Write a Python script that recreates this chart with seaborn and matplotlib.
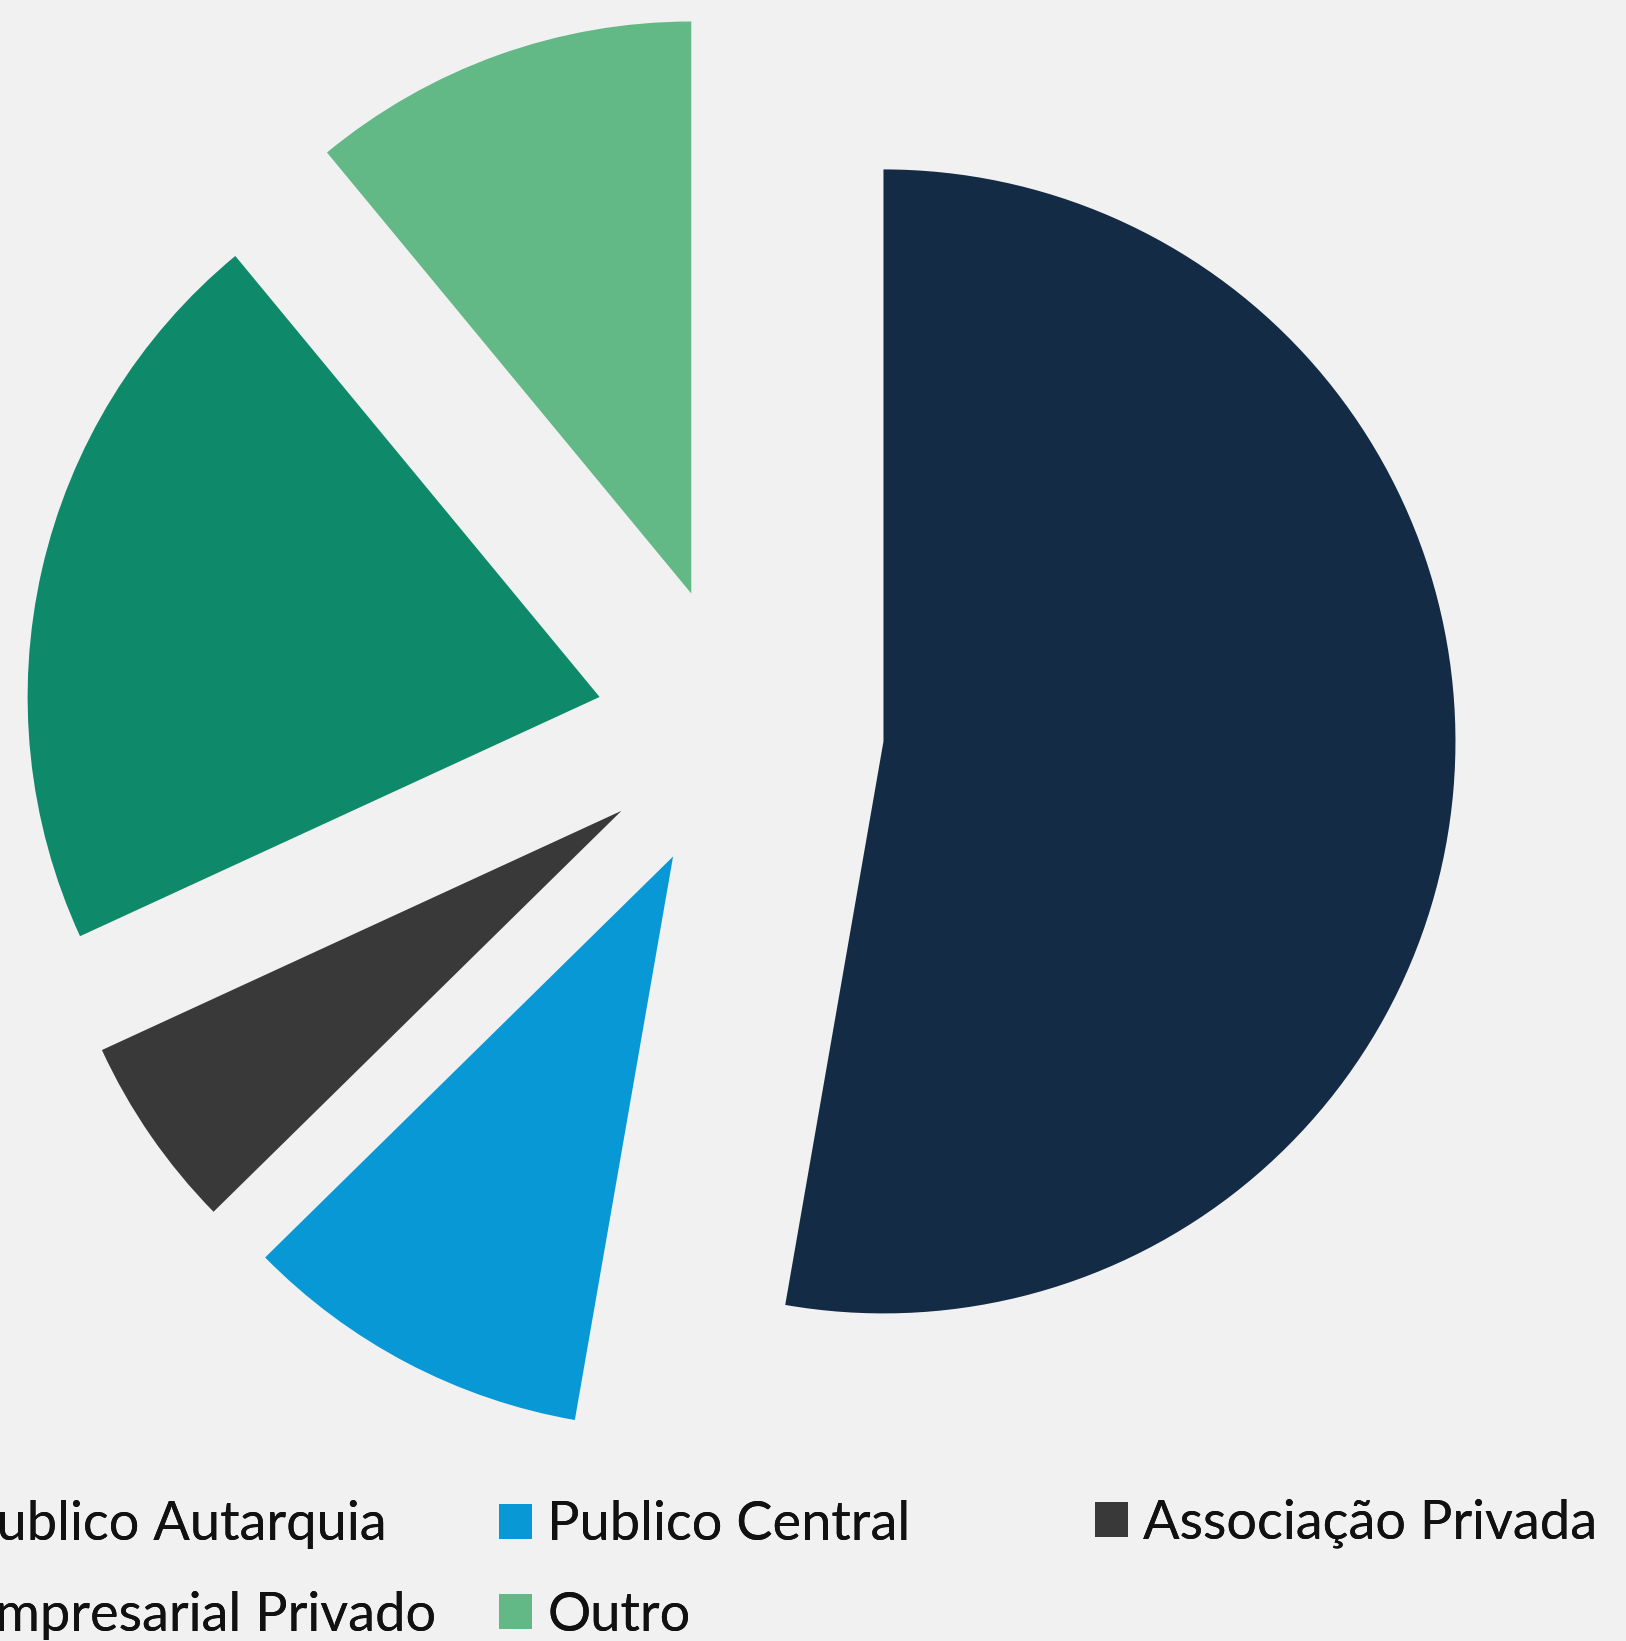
import matplotlib
matplotlib.use("Agg")
import matplotlib.pyplot as plt
import seaborn as sns

labels = ["Publico Autarquia", "Publico Central", "Associação Privada",
          "Empresarial Privado", "Outro"]
counts = [48, 9, 5, 19, 10]
colors = ["#132b45", "#0798d5", "#393939", "#0e8a6b", "#62b986"]

bg = "#f1f1f1"
sns.set_style("white", {"axes.facecolor": bg, "figure.facecolor": bg})
plt.rcParams["font.family"] = ["Lato", "DejaVu Sans"]

W, H = 1626, 1641
fig = plt.figure(figsize=(W / 100, H / 100), dpi=100)
ax = fig.add_axes([0, 0, 1, 1])

# pizza com todas as fatias destacadas
R = 572
wedges, _ = ax.pie(counts, colors=colors, startangle=90, counterclock=False,
                   radius=R, center=(740, H - 729),
                   explode=[144] * len(counts),
                   wedgeprops=dict(linewidth=0))
ax.set_xlim(0, W)
ax.set_ylim(0, H)
ax.set_aspect("auto")
ax.axis("off")

# legenda em 3 colunas (a primeira sai cortada pela esquerda)
kw = dict(frameon=False, fontsize=39, handlelength=0.61, handleheight=0.61,
          handletextpad=0.28, labelspacing=0.76, borderpad=0,
          borderaxespad=0, labelcolor="#111111")
cols = [[0, 3], [1, 4], [2]]
anchors = [("center right", 436, 1570), ("center left", 499, 1570),
           ("center left", 1095, 1523)]
for idx, (loc, x, y) in zip(cols, anchors):
    leg = fig.legend([wedges[i] for i in idx], [labels[i] for i in idx],
                     loc=loc, bbox_to_anchor=(x / W, 1 - y / H), **kw)
    fig.add_artist(leg)

fig.savefig("out.png", dpi=100, facecolor=bg)
